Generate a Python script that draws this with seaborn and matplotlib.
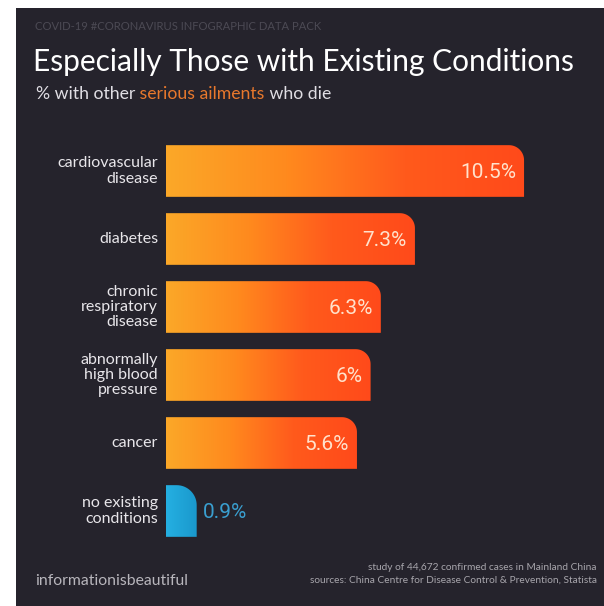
import numpy as np
import pandas as pd
import matplotlib.pyplot as plt
import seaborn as sns
from matplotlib.path import Path
from matplotlib.patches import PathPatch, Rectangle
from matplotlib.colors import LinearSegmentedColormap

categories = ['cardiovascular\ndisease', 'diabetes', 'chronic\nrespiratory\ndisease',
              'abnormally\nhigh blood\npressure', 'cancer', 'no existing\nconditions']
death_rate = [10.5, 7.3, 6.3, 6.0, 5.6, 0.9]
value_labels = ['10.5%', '7.3%', '6.3%', '6%', '5.6%', '0.9%']

df = pd.DataFrame({'condition': categories, 'rate': death_rate})

sns.set_style('white')
plt.rcParams['font.family'] = ['Lato', 'DejaVu Sans']

BG = '#25232c'
W, H = 604, 606
fig = plt.figure(figsize=(W / 100, H / 100), dpi=100)
fig.patch.set_facecolor('white')
fig.add_artist(Rectangle((16 / W, 0), 1, 1 - 8 / H, transform=fig.transFigure,
                         facecolor=BG, edgecolor='none', zorder=-5))

# axes placed in pixels: bars start at x=166, rows 68px apart
ax_w, ax_h = 434, 408
ax = fig.add_axes([166 / W, 1 - 545 / H, ax_w / W, ax_h / H])
ax.set_facecolor('none')

sns.barplot(data=df, x='rate', y='condition', orient='h', ax=ax, width=0.76,
            color='#ff7a20', saturation=1)
xmax = ax_w / 34.1
ax.set_xlim(0, xmax)
ax.set_ylim(len(categories) - 0.5, -0.5)
sx = ax_w / xmax   # px per x unit
sy = ax_h / len(categories)

orange = LinearSegmentedColormap.from_list('o', ['#fba828', '#ff8a1e', '#ff5a1c', '#ff4a1a'])
blue = LinearSegmentedColormap.from_list('b', ['#25b0e2', '#1a98cc'])
grad = np.linspace(0, 1, 256).reshape(1, -1)
num_font = ['Roboto', 'DejaVu Sans']

for i, p in enumerate(list(ax.patches)):
    x0, y_top = p.get_x(), p.get_y()
    x1, y_bot = x0 + p.get_width(), y_top + p.get_height()
    p.set_visible(False)
    last = i == len(categories) - 1
    r = 20 if last else 15
    rx, ry = r / sx, r / sy
    t = np.linspace(0, np.pi / 2, 20)
    cx, cy = x1 - rx, y_top + ry
    arc = np.column_stack([cx + rx * np.cos(t), cy - ry * np.sin(t)])
    verts = np.vstack([[x0, y_bot], [x1, y_bot], arc, [x0, y_top], [x0, y_bot]])
    codes = [Path.MOVETO] + [Path.LINETO] * (len(verts) - 2) + [Path.CLOSEPOLY]
    shape = PathPatch(Path(verts, codes), facecolor='none', edgecolor='none')
    ax.add_patch(shape)
    im = ax.imshow(grad, extent=[x0, x1, y_bot, y_top], aspect='auto',
                   cmap=blue if last else orange, interpolation='bicubic', zorder=2)
    im.set_clip_path(shape)

    if last:
        ax.text(x1 + 6 / sx, i + 0.02, value_labels[i], ha='left', va='center', fontsize=15,
                color='#3a9fd0', family=num_font, zorder=3)
    else:
        ax.text(x1 - 8 / sx, i + 0.02, value_labels[i], ha='right', va='center', fontsize=15,
                color='#ffe2cc', family=num_font, zorder=3)

    # category label, right aligned line by line
    ax.text(-8 / sx, i, categories[i], ha='right', va='center', multialignment='right',
            fontsize=11.5, color='#e8e6ea', linespacing=1.1, clip_on=False)

ax.set_xlim(0, xmax)
ax.set_ylim(len(categories) - 0.5, -0.5)
ax.set_xlabel('')
ax.set_ylabel('')
ax.set_xticks([])
ax.set_yticks([])
sns.despine(ax=ax, left=True, bottom=True)


def px(x, y):
    return x / W, 1 - y / H


fig.text(*px(35, 27), 'COVID-19 #CORONAVIRUS INFOGRAPHIC DATA PACK', fontsize=8.1,
         color='#4c4a54', va='center', ha='left')
fig.text(*px(33, 62), 'Especially Those with Existing Conditions', fontsize=21.5,
         color='white', va='center', ha='left')
t1 = fig.text(*px(36, 99), '% with other', fontsize=12.7, color='#e0dee4',
              va='baseline', ha='left')
t2 = ax.annotate(' serious ailments', xy=(1, 0), xycoords=t1, fontsize=12.7,
                 color='#e8782c', va='bottom', ha='left', annotation_clip=False)
ax.annotate(' who die', xy=(1, 0), xycoords=t2, fontsize=12.7, color='#e0dee4',
            va='bottom', ha='left', annotation_clip=False)

fig.text(*px(35, 581), 'informationisbeautiful', fontsize=11.3, color='#b8b6bc',
         va='center', ha='left')
fig.text(*px(597, 568), 'study of 44,672 confirmed cases in Mainland China', fontsize=7.3,
         color='#a8a6ac', va='center', ha='right')
fig.text(*px(597, 580), 'sources: China Centre for Disease Control & Prevention, Statista',
         fontsize=7.3, color='#a8a6ac', va='center', ha='right')

fig.savefig('out.png', dpi=100, facecolor=fig.get_facecolor())
